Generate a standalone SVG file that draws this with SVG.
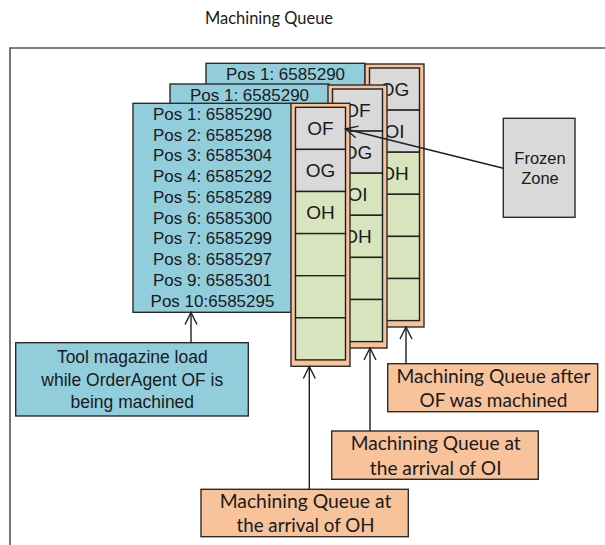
<svg xmlns="http://www.w3.org/2000/svg" width="605" height="545" viewBox="0 0 605 545">
  <defs>
    <style>
      .frame { fill: none; stroke: #555555; stroke-width: 1.6; }
      .pos { fill: #92cddc; stroke: #2b2b2b; stroke-width: 1.4; }
      .strip { fill: #f8c39b; stroke: #2b2b2b; stroke-width: 1.4; }
      .busy { fill: #d9d9d9; stroke: #1f1f1f; stroke-width: 1.4; }
      .free { fill: #d7e4bd; stroke: #1f1f1f; stroke-width: 1.4; }
      .note { fill: #f8c39b; stroke: #2b2b2b; stroke-width: 1.4; }
      .frozen { fill: #d9d9d9; stroke: #2b2b2b; stroke-width: 1.4; }
      .sans { font-family: "Liberation Sans", Arial, sans-serif; fill: #1a1a1a; text-anchor: middle; }
      .cal { font-family: Lato, "Open Sans", sans-serif; fill: #1a1a1a; text-anchor: middle; }
      .p { font-size: 17px; }
      .c { font-size: 19px; }
      .n { font-size: 18.5px; }
      .conn { fill: none; stroke: #1f1f1f; stroke-width: 1.4; }
    </style>
    <marker id="open" viewBox="-14 -8 16 16" refX="0" refY="0" markerWidth="16" markerHeight="16" markerUnits="userSpaceOnUse" orient="auto">
      <path d="M-12,-6 L0,0 L-12,6" fill="none" stroke="#1f1f1f" stroke-width="1.4"/>
    </marker>
  </defs>

  <rect width="605" height="545" fill="#ffffff"/>

  <!-- title and outer frame -->
  <text class="cal" x="269" y="24" font-size="18" textLength="128" lengthAdjust="spacingAndGlyphs">Machining Queue</text>
  <path class="frame" d="M10,560 L10,48 L620,48"/>

  <!-- queue after OF was machined (back layer) -->
  <g id="queue-after-of">
    <g transform="translate(206,63.3)">
      <rect class="pos" x="0" y="0" width="159" height="209"/>
      <text class="sans p" x="79.5" y="16.7">Pos 1: 6585290</text>
    </g>
    <g transform="translate(365,64)">
      <rect class="strip" x="0" y="0" width="59" height="263"/>
      <rect class="busy" x="4.5" y="4" width="50" height="42.1"/>
      <rect class="busy" x="4.5" y="46.1" width="50" height="42.1"/>
      <rect class="free" x="4.5" y="88.2" width="50" height="42.1"/>
      <rect class="free" x="4.5" y="130.3" width="50" height="42.1"/>
      <rect class="free" x="4.5" y="172.4" width="50" height="42.1"/>
      <rect class="free" x="4.5" y="214.5" width="50" height="42.1"/>
      <text class="sans c" x="29.5" y="31.7">OG</text>
      <text class="sans c" x="29.5" y="73.8">OI</text>
      <text class="sans c" x="29.5" y="115.9">OH</text>
    </g>
  </g>

  <!-- queue at the arrival of OI (middle layer) -->
  <g id="queue-arrival-oi">
    <g transform="translate(170,84)">
      <rect class="pos" x="0" y="0" width="159" height="209"/>
      <text class="sans p" x="79.5" y="16.7">Pos 1: 6585290</text>
    </g>
    <g transform="translate(328,85)">
      <rect class="strip" x="0" y="0" width="59" height="263"/>
      <rect class="busy" x="4.5" y="4" width="50" height="42.1"/>
      <rect class="busy" x="4.5" y="46.1" width="50" height="42.1"/>
      <rect class="free" x="4.5" y="88.2" width="50" height="42.1"/>
      <rect class="free" x="4.5" y="130.3" width="50" height="42.1"/>
      <rect class="free" x="4.5" y="172.4" width="50" height="42.1"/>
      <rect class="free" x="4.5" y="214.5" width="50" height="42.1"/>
      <text class="sans c" x="29.5" y="31.7">OF</text>
      <text class="sans c" x="29.5" y="73.8">OG</text>
      <text class="sans c" x="29.5" y="115.9">OI</text>
      <text class="sans c" x="29.5" y="158">OH</text>
    </g>
  </g>

  <!-- queue at the arrival of OH (front layer) -->
  <g id="queue-arrival-oh">
    <g transform="translate(133,103.3)">
      <rect class="pos" x="0" y="0" width="158.5" height="209"/>
      <text class="sans p" x="79.5" y="16.7">Pos 1: 6585290</text>
      <text class="sans p" x="79.5" y="37.4">Pos 2: 6585298</text>
      <text class="sans p" x="79.5" y="58.2">Pos 3: 6585304</text>
      <text class="sans p" x="79.5" y="78.9">Pos 4: 6585292</text>
      <text class="sans p" x="79.5" y="99.7">Pos 5: 6585289</text>
      <text class="sans p" x="79.5" y="120.4">Pos 6: 6585300</text>
      <text class="sans p" x="79.5" y="141.1">Pos 7: 6585299</text>
      <text class="sans p" x="79.5" y="161.9">Pos 8: 6585297</text>
      <text class="sans p" x="79.5" y="182.6">Pos 9: 6585301</text>
      <text class="sans p" x="79.5" y="203.4">Pos 10:6585295</text>
    </g>
    <g transform="translate(291,103.3)">
      <rect class="strip" x="0" y="0" width="59" height="263"/>
      <rect class="busy" x="4.5" y="4" width="50" height="42.1"/>
      <rect class="busy" x="4.5" y="46.1" width="50" height="42.1"/>
      <rect class="free" x="4.5" y="88.2" width="50" height="42.1"/>
      <rect class="free" x="4.5" y="130.3" width="50" height="42.1"/>
      <rect class="free" x="4.5" y="172.4" width="50" height="42.1"/>
      <rect class="free" x="4.5" y="214.5" width="50" height="42.1"/>
      <text class="sans c" x="29.5" y="31.7">OF</text>
      <text class="sans c" x="29.5" y="73.8">OG</text>
      <text class="sans c" x="29.5" y="115.9">OH</text>
    </g>
  </g>

  <!-- frozen zone -->
  <g id="frozen-zone">
    <rect class="frozen" x="503.3" y="118.3" width="71.7" height="99"/>
    <text class="sans" x="540" y="164" font-size="16.5">Frozen</text>
    <text class="sans" x="540" y="184" font-size="16.5">Zone</text>
  </g>

  <!-- annotation boxes -->
  <g id="tool-magazine-note">
    <rect class="pos" x="15.7" y="342.7" width="232.6" height="73.3"/>
    <text class="sans" x="132.3" y="363.3" font-size="17.5">Tool magazine load</text>
    <text class="sans" x="132.3" y="386" font-size="17.5">while OrderAgent OF is</text>
    <text class="sans" x="132.3" y="407.7" font-size="17.5">being machined</text>
  </g>

  <g id="note-after-of">
    <rect class="note" x="387.7" y="363.7" width="210" height="48"/>
    <text class="cal n" x="493.5" y="383.3" textLength="194" lengthAdjust="spacingAndGlyphs">Machining Queue after</text>
    <text class="cal n" x="493.5" y="407.3" textLength="148" lengthAdjust="spacingAndGlyphs">OF was machined</text>
  </g>

  <g id="note-arrival-oi">
    <rect class="note" x="331.7" y="431" width="206.6" height="48.3"/>
    <text class="cal n" x="435.7" y="450" textLength="170" lengthAdjust="spacingAndGlyphs">Machining Queue at</text>
    <text class="cal n" x="435.7" y="475" textLength="131.7" lengthAdjust="spacingAndGlyphs">the arrival of OI</text>
  </g>

  <g id="note-arrival-oh">
    <rect class="note" x="201" y="489.3" width="207.3" height="47.4"/>
    <text class="cal n" x="305.5" y="508.3" textLength="171.7" lengthAdjust="spacingAndGlyphs">Machining Queue at</text>
    <text class="cal n" x="305.5" y="531.7" textLength="138" lengthAdjust="spacingAndGlyphs">the arrival of OH</text>
  </g>

  <!-- connectors -->
  <g id="connectors">
    <line class="conn" x1="503.3" y1="168.3" x2="345.5" y2="129" marker-end="url(#open)"/>
    <line class="conn" x1="191" y1="342.7" x2="191" y2="312.5" marker-end="url(#open)"/>
    <line class="conn" x1="309.3" y1="489.3" x2="309.3" y2="366.5" marker-end="url(#open)"/>
    <line class="conn" x1="370" y1="431" x2="370" y2="348" marker-end="url(#open)"/>
    <line class="conn" x1="406" y1="363.7" x2="406" y2="327" marker-end="url(#open)"/>
  </g>
</svg>
